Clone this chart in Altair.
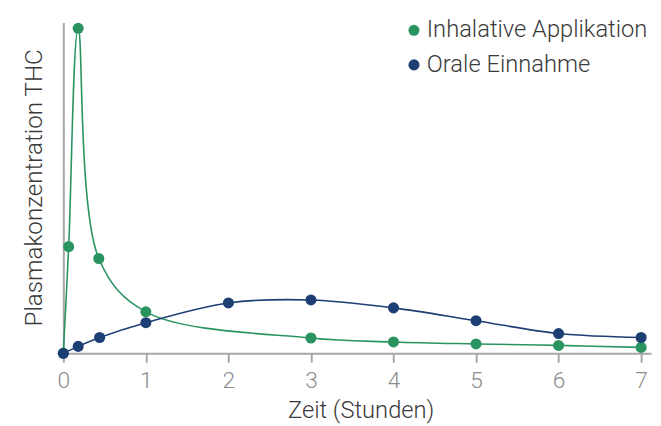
import altair as alt
import pandas as pd

series_names = ["Inhalative Applikation", "Orale Einnahme"]
series_colors = ["#2a9461", "#1e3f74"]

inhal_x = [0, 0.065, 0.18, 0.43, 1, 3, 4, 5, 6, 7]
inhal_y = [0, 108, 329, 96, 42, 15.5, 11.5, 9.5, 8, 6]

oral_x = [0, 0.18, 0.44, 1, 2, 3, 4, 5, 6, 7]
oral_y = [0, 7, 16, 31, 51, 54, 46, 33, 20, 16]

x_ticks = [0, 1, 2, 3, 4, 5, 6, 7]

rows = []
for x, y in zip(inhal_x, inhal_y):
    rows.append({"t": x, "c": y, "s": series_names[0], "o": 0})
for x, y in zip(oral_x, oral_y):
    rows.append({"t": x, "c": y, "s": series_names[1], "o": 1})
df = pd.DataFrame(rows)

FONT = "Roboto"

x_enc = alt.X(
    "t:Q",
    scale=alt.Scale(domain=[0, 7.12], nice=False, zero=False),
    axis=alt.Axis(
        values=x_ticks,
        format="d",
        title="Zeit (Stunden)",
        grid=False,
        domainColor="#a6a6a6",
        domainWidth=2,
        tickColor="#a6a6a6",
        tickWidth=2,
        tickSize=9,
        labelFont=FONT,
        labelFontSize=23,
        labelFontWeight=300,
        labelColor="#8c8c8c",
        labelPadding=8,
        labelFlush=False,
        titleFont=FONT,
        titleFontSize=24,
        titleFontWeight=300,
        titleColor="#3a3a3a",
        titleX=301,
        titleY=65,
        titleBaseline="alphabetic",
        titleAlign="center",
    ),
)
y_enc = alt.Y(
    "c:Q",
    scale=alt.Scale(domain=[0, 335], nice=False),
    axis=alt.Axis(
        title="Plasmakonzentration THC",
        grid=False,
        ticks=False,
        labels=False,
        domainColor="#a6a6a6",
        domainWidth=2,
        titleFont=FONT,
        titleFontSize=24.5,
        titleFontWeight=300,
        titleColor="#3a3a3a",
        titleAngle=-90,
        titleX=-22,
        titleY=167,
        titleAlign="center",
        titleBaseline="alphabetic",
    ),
)
color_scale = alt.Scale(domain=series_names, range=series_colors)

lines = alt.Chart(df).mark_line(interpolate="catmull-rom", strokeWidth=1.6).encode(
    x=x_enc,
    y=y_enc,
    color=alt.Color("s:N", scale=color_scale, legend=None),
    detail="s:N",
)

points = alt.Chart(df).mark_circle(size=125, opacity=1).encode(
    x=x_enc,
    y=y_enc,
    color=alt.Color(
        "s:N",
        scale=color_scale,
        legend=alt.Legend(
            title=None,
            orient="none",
            legendX=343,
            legendY=-4,
            symbolType="circle",
            symbolSize=125,
            symbolStrokeWidth=0,
            symbolOpacity=1,
            labelFont=FONT,
            labelFontSize=24,
            labelFontWeight=300,
            labelColor="#3a3a3a",
            labelOffset=1,
            rowPadding=11,
            padding=0,
            labelLimit=400,
        ),
    ),
    order="o:Q",
)

chart = (
    alt.layer(lines, points)
    .resolve_legend(color="independent")
    .properties(
        width=595,
        height=335,
        autosize=alt.AutoSizeParams(type="none"),
        padding={"left": 56, "top": 12, "right": 2, "bottom": 70},
    )
    .configure(background="white", view=alt.ViewConfig(stroke=None))
)

chart.save("out.html", embed_options={"renderer": "svg", "actions": False})
